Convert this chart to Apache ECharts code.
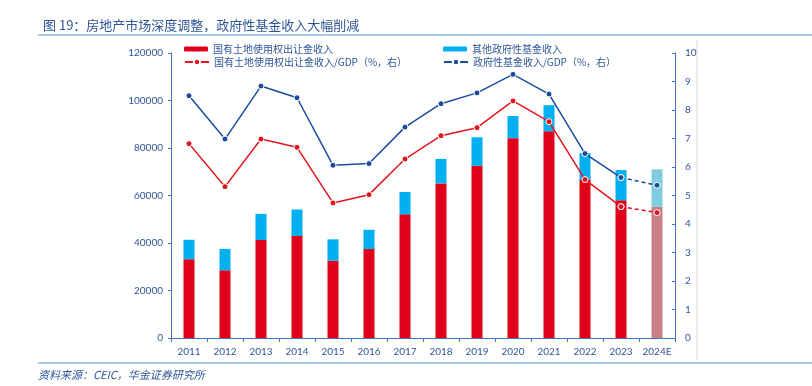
<!DOCTYPE html>
<html>
<head>
<meta charset="utf-8">
<script src="https://cdn.jsdelivr.net/npm/echarts@6/dist/echarts.min.js"></script>
<style>html,body{margin:0;padding:0;background:#fff;}#c{width:812px;height:386px;}</style>
</head>
<body>
<div id="c"></div>
<script>
var years = ['2011','2012','2013','2014','2015','2016','2017','2018','2019','2020','2021','2022','2023','2024E'];
var landRevenue = [33166, 28517, 41250, 42940, 32547, 37457, 52059, 65096, 72517, 84142, 87051, 66854, 57996, 55200];
var otherFund = [8197, 9000, 11019, 11173, 9000, 8100, 9421, 10309, 11999, 9347, 10973, 11025, 12709, 15800];
var landRatio = [6.82, 5.31, 6.98, 6.69, 4.74, 5.03, 6.28, 7.10, 7.38, 8.32, 7.59, 5.56, 4.61, 4.40];
var fundRatio = [8.50, 6.98, 8.84, 8.43, 6.06, 6.12, 7.40, 8.22, 8.60, 9.25, 8.56, 6.47, 5.63, 5.36];
var leftTicks = [0, 20000, 40000, 60000, 80000, 100000, 120000];
var rightTicks = [0,1,2,3,4,5,6,7,8,9,10];

var N = years.length;
var solid = function(arr){ return arr.map(function(v,i){ return i < N-1 ? v : null; }); };
var dashed = function(arr){ return arr.map(function(v,i){ return i >= N-2 ? v : null; }); };

var RED = '#E1001A', BLUE = '#00B0F0', RED_E = '#C97F88', BLUE_E = '#80CDE0';
var LRED = '#E2141E', LBLUE = '#1B4C9C';
var AX = '#4472C4', TXT = '#2F5597';
var CJK = '"Noto Sans CJK SC", sans-serif';
var NUM = 'Lato, "Liberation Sans", sans-serif';

var chart = echarts.init(document.getElementById('c'));
var legendBase = { itemGap: 4, textStyle: { fontFamily: CJK, fontSize: 10, color: TXT }, itemWidth: 24, itemHeight: 5, padding: 0 };
chart.setOption({
  animation: false,
  backgroundColor: '#fff',
  title: {
    text: '图 19：房地产市场深度调整，政府性基金收入大幅削减',
    left: 38, top: 14,
    textStyle: { fontFamily: CJK, fontSize: 13, fontWeight: 'normal', color: '#2F5597' }
  },
  graphic: [
    { type: 'line', shape: { x1: 38, y1: 35, x2: 812, y2: 35 }, style: { stroke: '#8EB4E3', lineWidth: 1.5 } },
    { type: 'line', shape: { x1: 38, y1: 363, x2: 812, y2: 363 }, style: { stroke: '#8EB4E3', lineWidth: 1.5 } },
    { type: 'line', shape: { x1: 697, y1: 40, x2: 697, y2: 360 }, style: { stroke: '#D9D9D9', lineWidth: 1 } },
    { type: 'text', left: 38, top: 369, style: { text: '资料来源：CEIC，华金证券研究所', fontFamily: CJK, fontSize: 11, fontStyle: 'italic', fill: '#2F5597' } }
  ],
  legend: [
    Object.assign({}, legendBase, { left: 184, top: 44, data: ['国有土地使用权出让金收入'] }),
    Object.assign({}, legendBase, { left: 443, top: 44, data: ['其他政府性基金收入'] }),
    Object.assign({}, legendBase, { left: 184, top: 57, itemHeight: 8, data: ['国有土地使用权出让金收入/GDP（%，右）'] }),
    Object.assign({}, legendBase, { left: 443, top: 57, itemHeight: 8, data: ['政府性基金收入/GDP（%，右）'] })
  ],
  grid: { left: 171, right: 137, top: 53, bottom: 48 },
  xAxis: {
    type: 'category', data: years,
    axisLine: { lineStyle: { color: AX, width: 1 } },
    axisTick: { show: true, alignWithLabel: false, interval: 0, length: 4, lineStyle: { color: AX } },
    axisLabel: { fontFamily: NUM, fontSize: 10, color: TXT, margin: 9, interval: 0 }
  },
  yAxis: [
    {
      type: 'value', min: 0, max: 120000, interval: 20000, position: 'left',
      axisLine: { show: true, lineStyle: { color: AX } },
      axisTick: { show: true, length: 3, lineStyle: { color: AX } },
      axisLabel: { fontFamily: NUM, fontSize: 10, color: TXT, margin: 8,
        formatter: function(v){ return leftTicks.indexOf(v) >= 0 ? String(v) : ''; } },
      splitLine: { show: false }
    },
    {
      type: 'value', min: 0, max: 10, interval: 1, position: 'right',
      axisLine: { show: true, lineStyle: { color: AX } },
      axisTick: { show: true, inside: true, length: 3, lineStyle: { color: AX } },
      axisLabel: { fontFamily: NUM, fontSize: 10, color: TXT, margin: 10,
        formatter: function(v){ return rightTicks.indexOf(v) >= 0 ? String(v) : ''; } },
      splitLine: { show: false }
    }
  ],
  series: [
    {
      name: '国有土地使用权出让金收入', type: 'bar', stack: 'a', barWidth: 11,
      itemStyle: { color: RED },
      data: landRevenue.map(function(v,i){ return i === N-1 ? { value: v, itemStyle: { color: RED_E } } : v; })
    },
    {
      name: '其他政府性基金收入', type: 'bar', stack: 'a', barWidth: 11,
      itemStyle: { color: BLUE },
      data: otherFund.map(function(v,i){ return i === N-1 ? { value: v, itemStyle: { color: BLUE_E } } : v; })
    },
    {
      name: '国有土地使用权出让金收入/GDP（%，右）', type: 'line', yAxisIndex: 1, z: 5,
      data: solid(landRatio), symbol: 'circle', symbolSize: 6,
      lineStyle: { color: LRED, width: 1.5 }, itemStyle: { color: LRED, borderColor: '#fff', borderWidth: 1 }
    },
    {
      name: 'landE', type: 'line', yAxisIndex: 1, z: 4,
      data: dashed(landRatio), symbol: 'circle', symbolSize: 6,
      lineStyle: { color: LRED, width: 1.5, type: [4, 3] }, itemStyle: { color: LRED, borderColor: '#fff', borderWidth: 1 }
    },
    {
      name: '政府性基金收入/GDP（%，右）', type: 'line', yAxisIndex: 1, z: 5,
      data: solid(fundRatio), symbol: 'circle', symbolSize: 6,
      lineStyle: { color: LBLUE, width: 1.5 }, itemStyle: { color: LBLUE, borderColor: '#fff', borderWidth: 1 }
    },
    {
      name: 'fundE', type: 'line', yAxisIndex: 1, z: 4,
      data: dashed(fundRatio), symbol: 'circle', symbolSize: 6,
      lineStyle: { color: LBLUE, width: 1.5, type: [4, 3] }, itemStyle: { color: LBLUE, borderColor: '#fff', borderWidth: 1 }
    }
  ]
});
</script>
</body>
</html>
